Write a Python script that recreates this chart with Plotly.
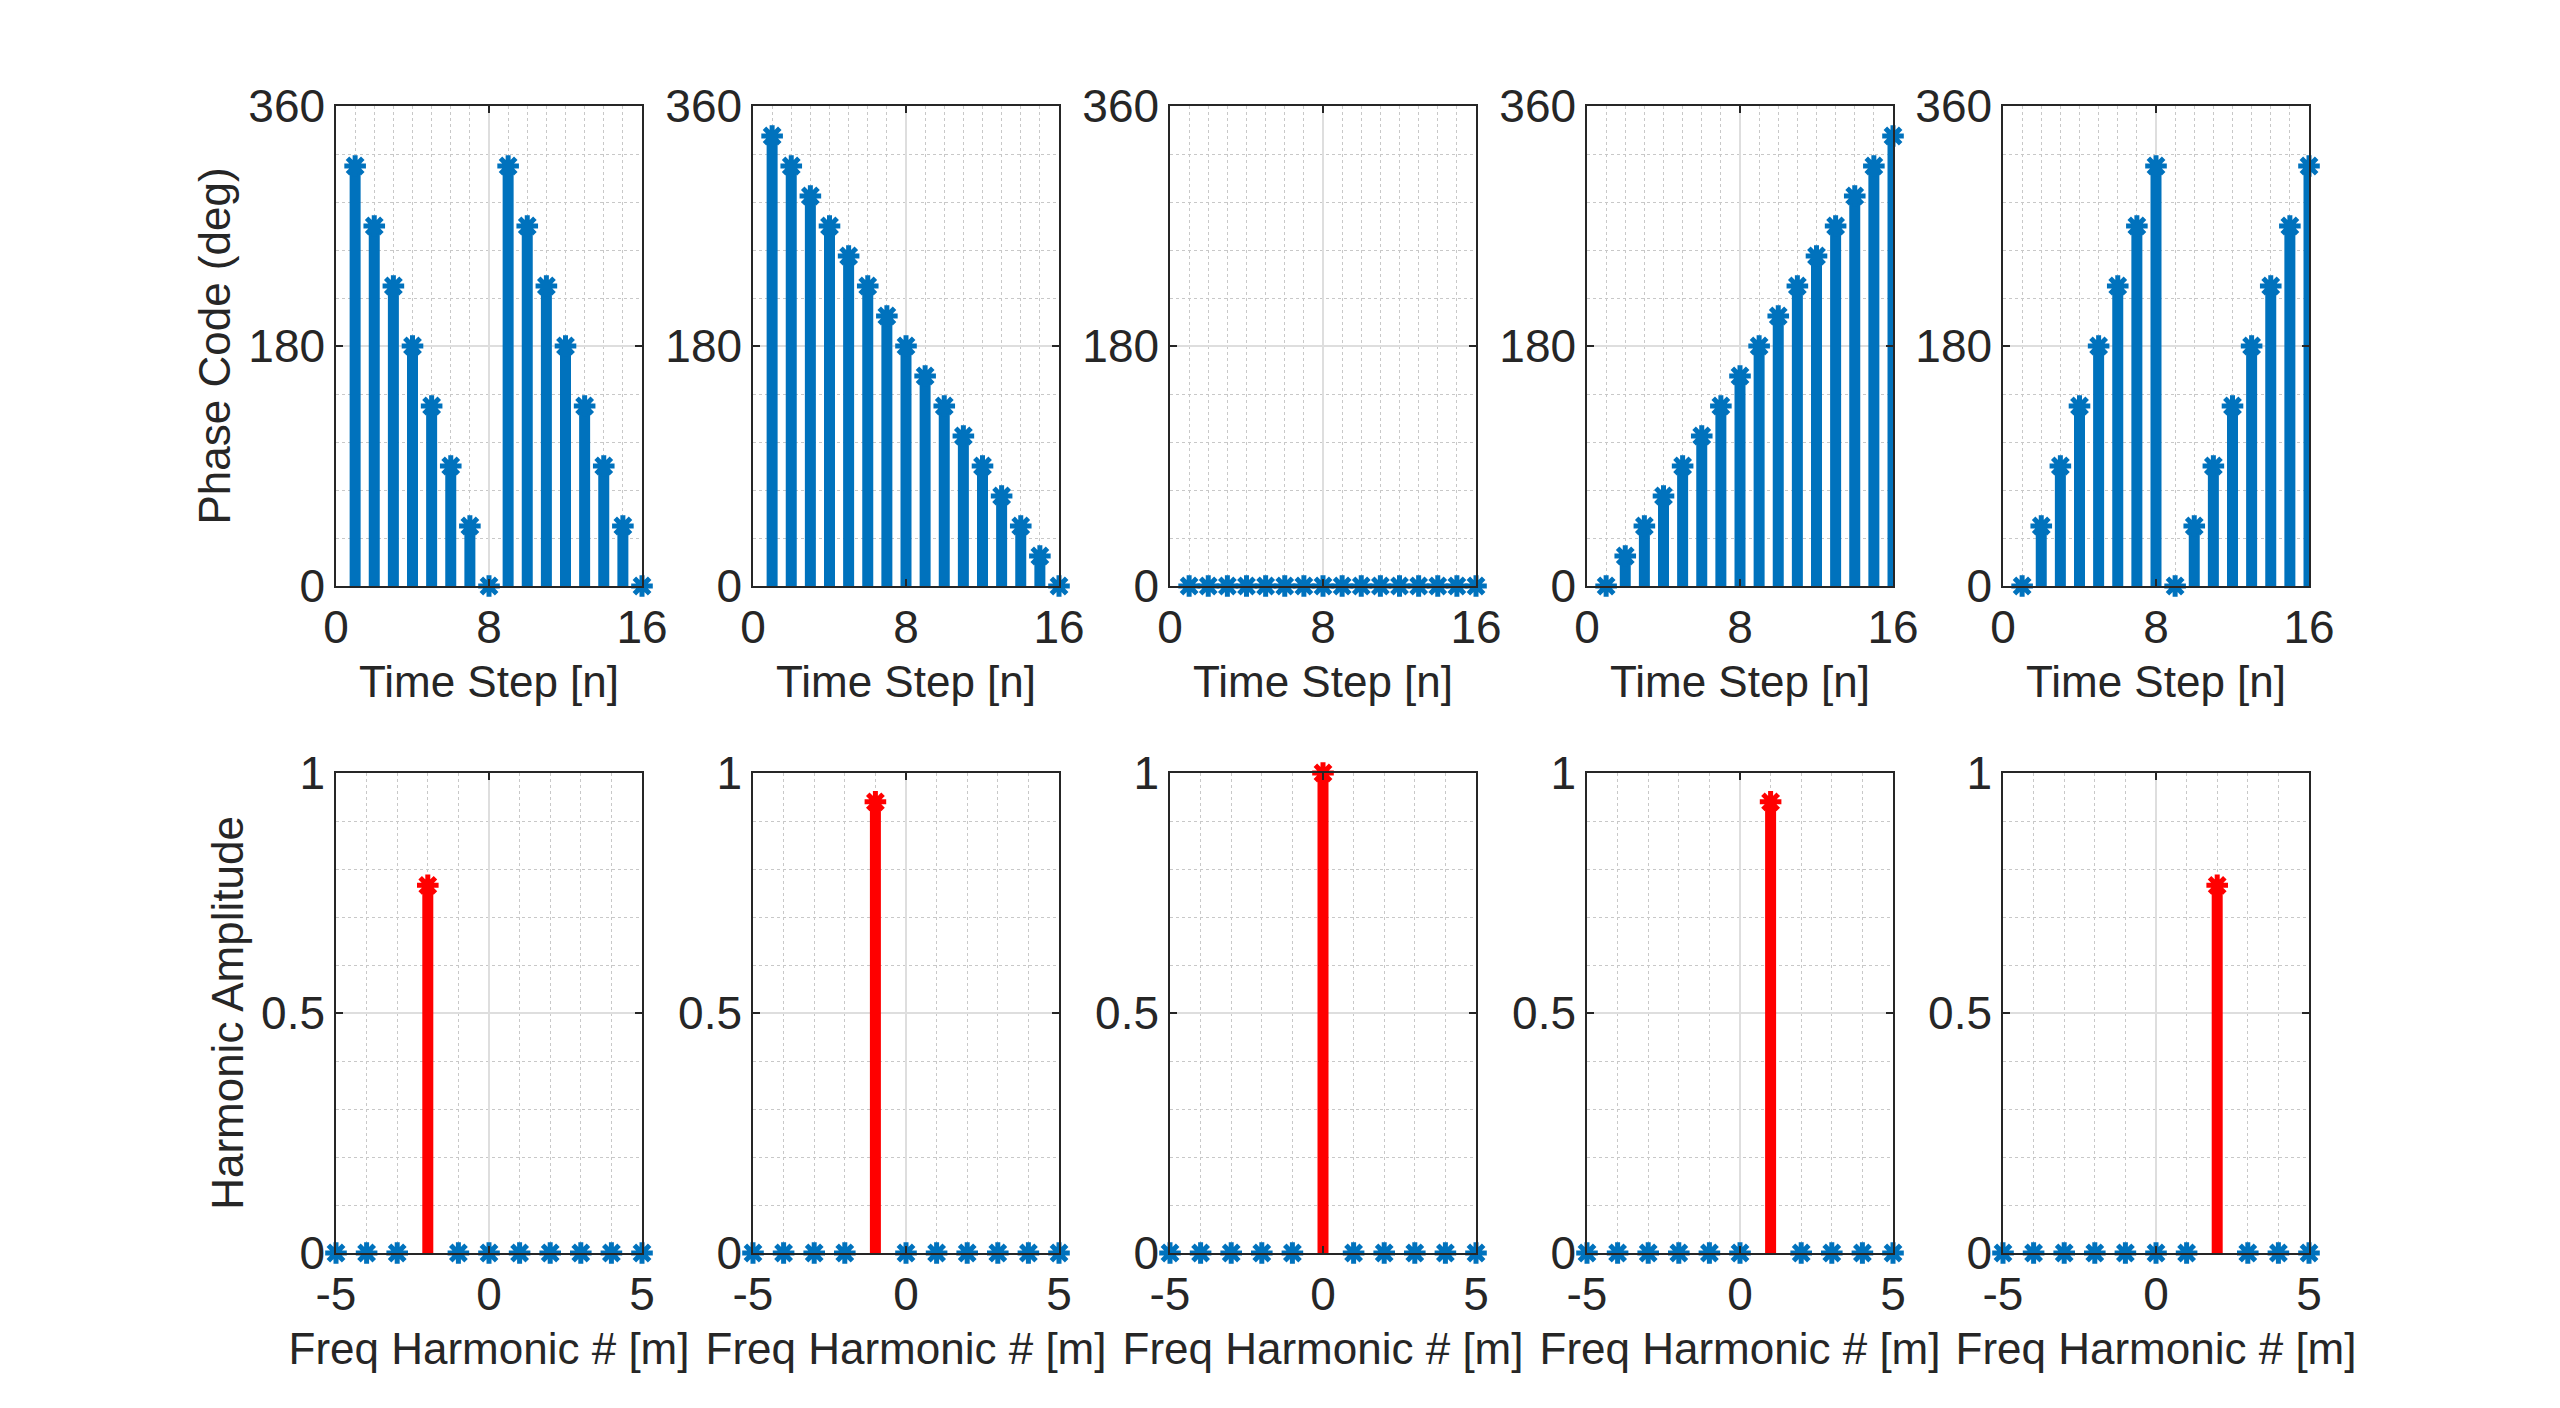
import plotly.graph_objects as go

# time steps and phase codes (deg) for the five codes
n = [1, 2, 3, 4, 5, 6, 7, 8, 9, 10, 11, 12, 13, 14, 15, 16]
phase1 = [315, 270, 225, 180, 135, 90, 45, 0, 315, 270, 225, 180, 135, 90, 45, 0]
phase2 = [337.5, 315, 292.5, 270, 247.5, 225, 202.5, 180, 157.5, 135, 112.5, 90, 67.5, 45, 22.5, 0]
phase3 = [0, 0, 0, 0, 0, 0, 0, 0, 0, 0, 0, 0, 0, 0, 0, 0]
phase4 = [0, 22.5, 45, 67.5, 90, 112.5, 135, 157.5, 180, 202.5, 225, 247.5, 270, 292.5, 315, 337.5]
phase5 = [0, 45, 90, 135, 180, 225, 270, 315, 0, 45, 90, 135, 180, 225, 270, 315]

# harmonic numbers and amplitudes
m = [-5, -4, -3, -2, -1, 0, 1, 2, 3, 4, 5]
amp1 = [0, 0, 0, 0.766, 0, 0, 0, 0, 0, 0, 0]
amp2 = [0, 0, 0, 0, 0.94, 0, 0, 0, 0, 0, 0]
amp3 = [0, 0, 0, 0, 0, 1, 0, 0, 0, 0, 0]
amp4 = [0, 0, 0, 0, 0, 0, 0.94, 0, 0, 0, 0]
amp5 = [0, 0, 0, 0, 0, 0, 0, 0.766, 0, 0, 0]

phases = [phase1, phase2, phase3, phase4, phase5]
amps = [amp1, amp2, amp3, amp4, amp5]

BLUE = "#0072BD"
RED = "#FF0000"
TXT = "#262626"
W, H = 2560, 1408

# pixel boxes of the panels (page has an 8px body margin)
col_left = [328, 745, 1162, 1579, 1995]
col_w = 306
top_row = (98, 578)
bot_row = (765, 1245)


def stem(fig, xs, ys, color, xa, ya):
    sx, sy = [], []
    for x, y in zip(xs, ys):
        sx += [x, x, None]
        sy += [0, y, None]
    fig.add_trace(go.Scatter(x=sx, y=sy, mode="lines", xaxis=xa, yaxis=ya,
                             line=dict(color=color, width=11), cliponaxis=False,
                             showlegend=False, hoverinfo="skip"))
    fig.add_trace(go.Scatter(x=xs, y=ys, mode="markers", xaxis=xa, yaxis=ya,
                             marker=dict(symbol="asterisk-open", size=18, color=color,
                                         line=dict(color=color, width=5)),
                             cliponaxis=False, showlegend=False))


fig = go.Figure()
font = dict(family="Liberation Sans, Arial, sans-serif", size=44, color=TXT)
tfont = dict(family="Liberation Sans, Arial, sans-serif", size=46, color=TXT)

def axis_style(dom, rng, tv, tt, minor_dt, title, anchor, standoff):
    return dict(domain=dom, range=rng, tickvals=tv, ticktext=tt, anchor=anchor,
                showline=True, linecolor=TXT, linewidth=1.5, mirror="ticks",
                ticks="inside", ticklen=7, tickcolor=TXT, tickwidth=1.5,
                showgrid=True, gridcolor="#dedede", gridwidth=1.5, zeroline=False,
                minor=dict(dtick=minor_dt, showgrid=True, gridcolor="#c8c8c8",
                           griddash="dot", gridwidth=1.3, ticks=""),
                tickfont=tfont, automargin=False,
                title=dict(text=title, font=font, standoff=standoff),
                fixedrange=True)

for i in range(5):
    k_top = 2 * i + 1
    k_bot = 2 * i + 2
    xd = [col_left[i] / W, (col_left[i] + col_w) / W]
    yd_top = [1 - top_row[1] / H, 1 - top_row[0] / H]
    yd_bot = [1 - bot_row[1] / H, 1 - bot_row[0] / H]

    xa_t, ya_t = "x%d" % k_top, "y%d" % k_top
    xa_b, ya_b = "x%d" % k_bot, "y%d" % k_bot

    stem(fig, n, phases[i], BLUE, xa_t, ya_t)

    peak = max(amps[i])
    bx = [x for x, a in zip(m, amps[i]) if a < peak]
    by = [a for a in amps[i] if a < peak]
    rx = [x for x, a in zip(m, amps[i]) if a == peak]
    ry = [a for a in amps[i] if a == peak]
    stem(fig, bx, by, BLUE, xa_b, ya_b)
    stem(fig, rx, ry, RED, xa_b, ya_b)

    fig.layout["xaxis%d" % k_top] = axis_style(xd, [0, 16], [0, 8, 16], ["0", "8", "16"], 1,
                                               "Time Step [n]", ya_t, 14)
    fig.layout["yaxis%d" % k_top] = axis_style(yd_top, [0, 360], [0, 180, 360],
                                               ["0", "180", "360"], 36,
                                               "Phase Code (deg)" if i == 0 else "", xa_t, 4)
    fig.layout["xaxis%d" % k_bot] = axis_style(xd, [-5, 5], [-5, 0, 5], ["-5", "0", "5"], 1,
                                               "Freq Harmonic # [m]", ya_b, 14)
    fig.layout["yaxis%d" % k_bot] = axis_style(yd_bot, [0, 1], [0, 0.5, 1], ["0", "0.5", "1"], 0.1,
                                               "Harmonic Amplitude" if i == 0 else "", xa_b, 4)

fig.update_layout(width=W, height=H, autosize=False,
                  margin=dict(l=0, r=0, t=0, b=0, pad=0, autoexpand=False),
                  paper_bgcolor="white", plot_bgcolor="white", showlegend=False)

fig.write_html("out.html")
